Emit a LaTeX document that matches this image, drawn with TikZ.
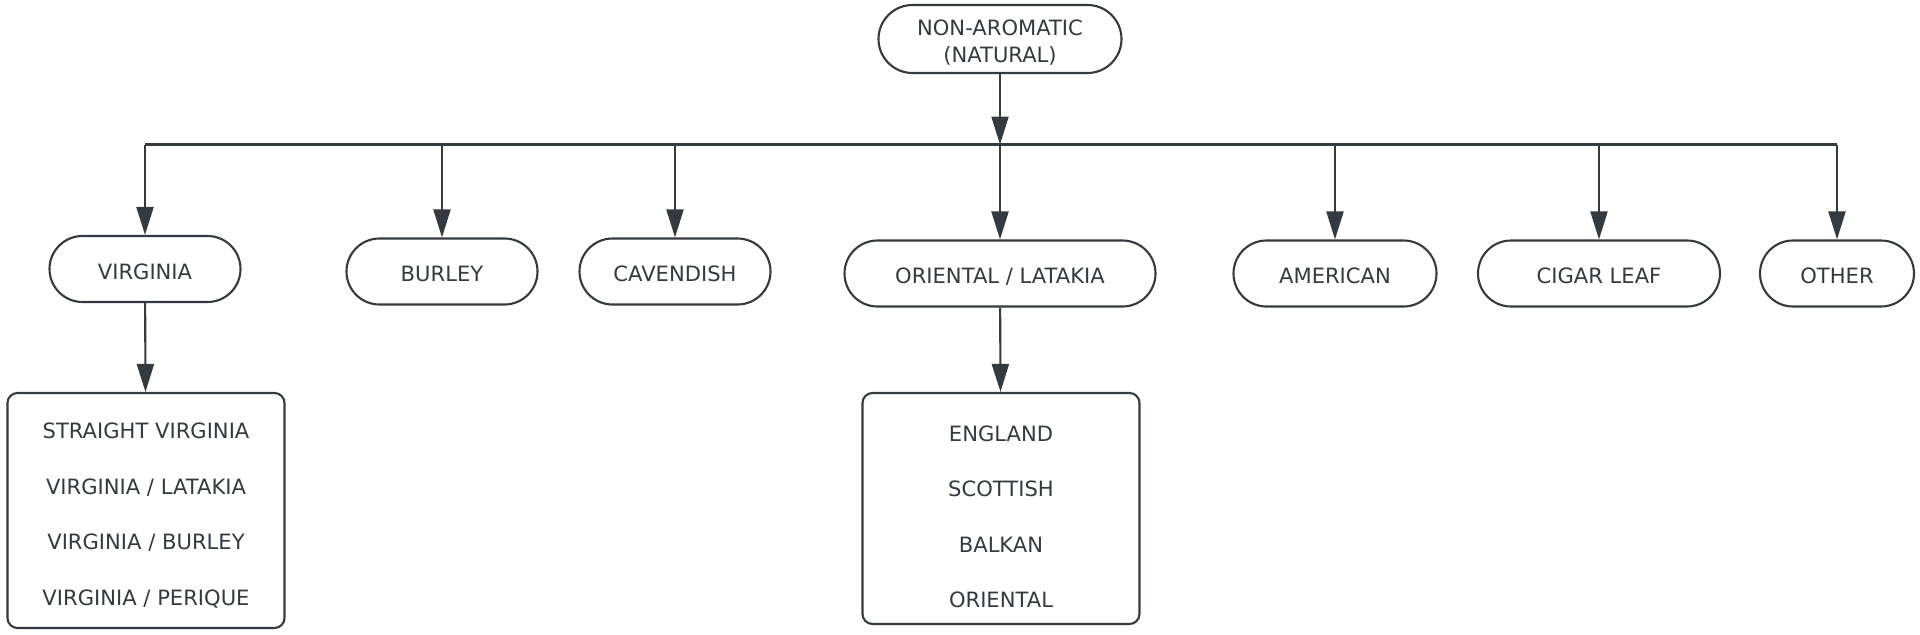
\documentclass[tikz,border=0pt]{standalone}
\usepackage{fontspec}
\setmainfont{DejaVu Sans}
\usetikzlibrary{arrows.meta, positioning}
\definecolor{mydark}{RGB}{52,58,64}
\tikzset{
  pill/.style={rectangle, draw=mydark, fill=white, text=mydark, align=center, minimum height=6.6mm, rounded corners=3.3mm, line width=0.6pt, font=\fontsize{6}{7.7}\selectfont},
  fam/.style={pill, text height=2mm, text depth=0pt},
  listbox/.style={rectangle, draw=mydark, fill=white, text=mydark, align=center, minimum width=27.7mm, rounded corners=1mm, line width=0.6pt, font=\fontsize{6}{15.8}\selectfont},
  arrow/.style={-{Triangle[length=2.8mm, width=1.7mm]}, line width=0.6pt, color=mydark},
  line/.style={line width=0.6pt, color=mydark}
}

\begin{document}
\begin{tikzpicture}[x=0.1mm, y=-0.1mm]
  \useasboundingbox (0,0) rectangle (1920,634);

  % root and bus
  \node [pill, minimum width=24.3mm, minimum height=6.8mm, rounded corners=3.4mm, inner ysep=0.5pt] (root) at (1000,39) {\rule{0pt}{2.3mm}NON-AROMATIC\\(NATURAL)};
  \coordinate (bus) at (1000,144.5);

  % tobacco families
  \node [fam, minimum width=19.1mm] (virginia) at (145,269) {VIRGINIA};
  \node [fam, minimum width=19.1mm] (burley) at (442,271.5) {BURLEY};
  \node [fam, minimum width=19.1mm] (cavendish) at (675,271.5) {CAVENDISH};
  \node [fam, minimum width=31.1mm] (oriental) at (1000,273.5) {ORIENTAL / LATAKIA};
  \node [fam, minimum width=20.3mm] (american) at (1335,273.5) {AMERICAN};
  \node [fam, minimum width=24.2mm] (cigar) at (1599,273.5) {CIGAR LEAF};
  \node [fam, minimum width=15.4mm] (other) at (1837,273.5) {OTHER};

  % blends
  \node [listbox, minimum height=23.5mm] (vblends) at (146,510.5) {\rule{0pt}{2.6mm}STRAIGHT VIRGINIA\\VIRGINIA / LATAKIA\\VIRGINIA / BURLEY\\VIRGINIA / PERIQUE};
  \node [listbox, minimum height=23.1mm] (oblends) at (1001,508.5) {\rule{0pt}{3.2mm}ENGLAND\\SCOTTISH\\BALKAN\\ORIENTAL};

  \draw [arrow] (root) -- (bus);
  \draw [line] (virginia |- bus) -- (other |- bus);
  \foreach \fam in {virginia, burley, cavendish, oriental, american, cigar, other}
    \draw [arrow] (\fam |- bus) -- (\fam);
  \draw [arrow] (virginia) -- (vblends);
  \draw [arrow] (oriental) -- (oblends);
\end{tikzpicture}
\end{document}
